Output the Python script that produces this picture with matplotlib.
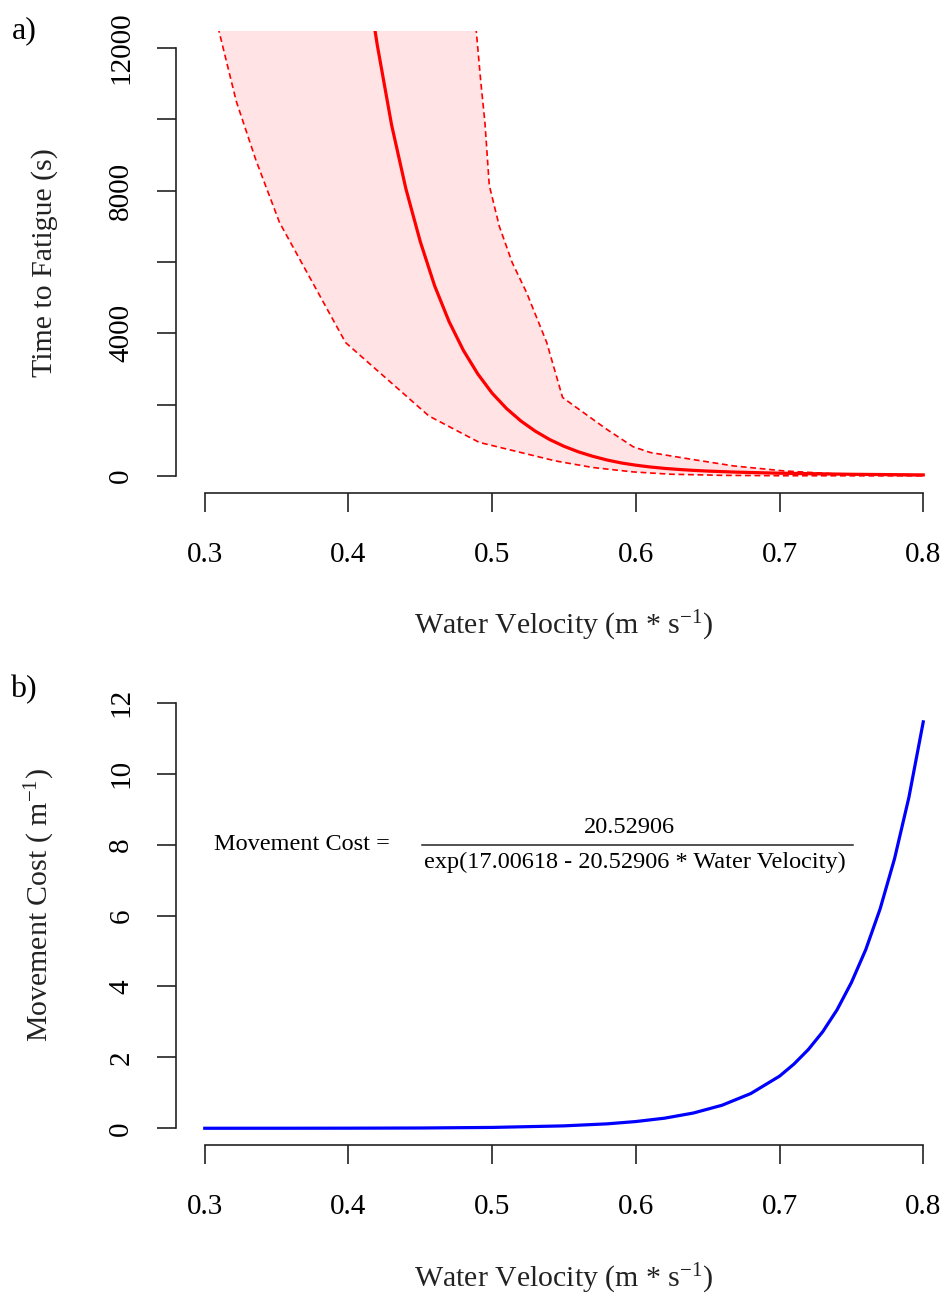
import matplotlib
matplotlib.use("Agg")
import matplotlib.pyplot as plt
import numpy as np

plt.rcParams['font.family'] = ['Liberation Serif', 'DejaVu Serif']
plt.rcParams['mathtext.fontset'] = 'custom'
plt.rcParams['mathtext.rm'] = 'Liberation Serif'
plt.rcParams['mathtext.it'] = 'Liberation Serif:italic'

# ---- panel a: time to fatigue (mean curve and band) ----
mean_v = [0.41, 0.42, 0.43, 0.44, 0.45, 0.46, 0.47, 0.48, 0.49, 0.50,
          0.51, 0.52, 0.53, 0.54, 0.55, 0.56, 0.57, 0.58, 0.59, 0.60,
          0.61, 0.62, 0.63, 0.64, 0.65, 0.67, 0.70, 0.75, 0.80]
mean_t = [14700, 12100, 9850, 8050, 6570, 5330, 4330, 3520, 2860, 2320,
          1890, 1540, 1255, 1020, 830, 675, 550, 445, 362, 300,
          250, 210, 180, 155, 135, 105, 75, 45, 28]

upper_v = [0.485, 0.489, 0.492, 0.495, 0.498, 0.505, 0.514, 0.524, 0.538,
           0.549, 0.561, 0.580, 0.598, 0.610, 0.638, 0.668, 0.703, 0.737,
           0.770, 0.800]
upper_t = [13500, 12460, 11100, 9900, 8150, 7000, 5980, 5140, 3740,
           2200, 1850, 1300, 820, 656, 470, 280, 140, 60, 20, 10]

lower_v = [0.305, 0.310, 0.322, 0.3355, 0.352, 0.398, 0.456, 0.491, 0.544,
           0.570, 0.598, 0.624, 0.660, 0.700, 0.800]
lower_t = [13500, 12460, 10500, 8870, 7110, 3740, 1680, 940, 420,
           235, 112, 47, 15, 5, 0]

# ---- panel b: movement cost ----
cost_v = [0.30, 0.35, 0.40, 0.45, 0.50, 0.55, 0.58, 0.60, 0.62, 0.64,
          0.66, 0.68, 0.70, 0.71, 0.72, 0.73, 0.74, 0.75, 0.76, 0.77,
          0.78, 0.79, 0.80]
cost = [0.0004, 0.001, 0.003, 0.008, 0.024, 0.068, 0.125, 0.19, 0.285, 0.43,
        0.65, 0.98, 1.47, 1.81, 2.22, 2.72, 3.34, 4.11, 5.04, 6.19,
        7.60, 9.33, 11.46]

W, H = 948, 1297
fig = plt.figure(figsize=(W / 100, H / 100), dpi=100)


def fx(x):
    return x / W


def fy(y):
    return 1 - y / H


def r_axes(ax, yticks, ylabels):
    for s in ['top', 'right']:
        ax.spines[s].set_visible(False)
    ax.spines['left'].set_bounds(yticks[0], yticks[-1])
    ax.spines['bottom'].set_bounds(0.3, 0.8)
    for s in ['left', 'bottom']:
        ax.spines[s].set_linewidth(1.2)
        ax.spines[s].set_color('#222222')
    ax.set_xlim(0.28, 0.82)
    ax.set_xticks([0.3, 0.4, 0.5, 0.6, 0.7, 0.8])
    ax.set_xticklabels(['0.3', '0.4', '0.5', '0.6', '0.7', '0.8'])
    ax.set_yticks(yticks)
    ax.set_yticklabels(ylabels, rotation=90, va='center')
    ax.tick_params(axis='both', length=14, width=1.2, color='#222222',
                   labelsize=21)
    ax.tick_params(axis='x', pad=21)
    ax.tick_params(axis='y', pad=16)


ax1 = fig.add_axes([176 / W, fy(493), 776 / W, 462 / H])
ax1.fill(np.r_[lower_v, upper_v[::-1]], np.r_[lower_t, upper_t[::-1]],
         color='#ffe3e5', lw=0)
ax1.plot(upper_v, upper_t, color='red', lw=1.2, ls=(0, (3.5, 2.2)))
ax1.plot(lower_v, lower_t, color='red', lw=1.2, ls=(0, (3.5, 2.2)))
ax1.plot(mean_v, mean_t, color='red', lw=2.3)
ax1.set_ylim(-480, 12480)
r_axes(ax1, [0, 2000, 4000, 6000, 8000, 10000, 12000],
       ['0', '', '4000', '', '8000', '', '12000'])

ax2 = fig.add_axes([176 / W, fy(1145.3), 776 / W, 459.6 / H])
ax2.plot(cost_v, cost, color='blue', lw=2.3)
ax2.set_ylim(-0.48, 12.48)
r_axes(ax2, [0, 2, 4, 6, 8, 10, 12],
       ['0', '2', '4', '6', '8', '10', '12'])

# formula
ax2.text(0.3065, 8.0, 'Movement Cost =', fontsize=17.5, ha='left', va='center')
ax2.text(0.5957, 8.47, '20.52906', fontsize=17.5, ha='center', va='center')
ax2.text(0.599, 7.51, 'exp(17.00618 - 20.52906 * Water Velocity)',
         fontsize=17.5, ha='center', va='center')
ax2.plot([0.451, 0.751], [7.98, 7.98], color='#222222', lw=1.1)

# labels
lab = 21.5
fig.text(fx(45), fy(263), 'Time to Fatigue (s)', rotation=90,
         ha='center', va='center', fontsize=lab, color='#222222')
fig.text(fx(40), fy(905), 'Movement Cost ( m$^{\\mathrm{-1}}$)', rotation=90,
         ha='center', va='center', fontsize=lab, color='#222222')
fig.text(fx(564), fy(626), 'Water Velocity (m * s$^{\\mathrm{-1}}$)',
         ha='center', va='center', fontsize=lab, color='#222222')
fig.text(fx(564), fy(1279), 'Water Velocity (m * s$^{\\mathrm{-1}}$)',
         ha='center', va='center', fontsize=lab, color='#222222')
fig.text(fx(12), fy(31), 'a)', ha='left', va='center', fontsize=23)
fig.text(fx(10), fy(690), 'b)', ha='left', va='center', fontsize=23)

fig.savefig('out.png', dpi=100)
